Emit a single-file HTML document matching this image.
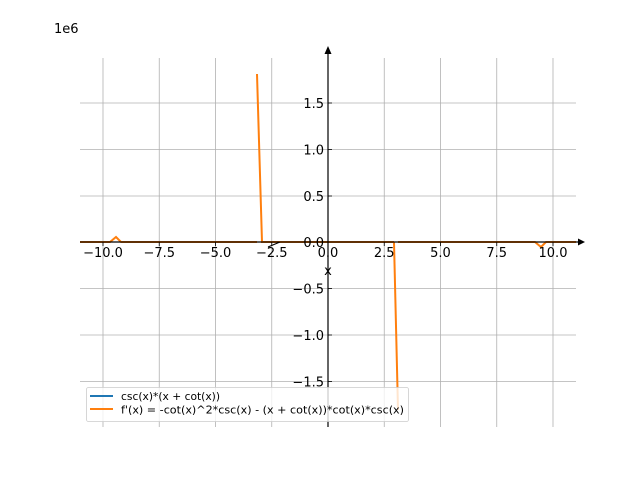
<!DOCTYPE html>
<html><head><style>body{margin:0;background:#fff}svg{display:block}text{font-family:"DejaVu Sans","Liberation Sans",sans-serif}</style></head>
<body>
<svg width="640" height="480" viewBox="0 0 640 480" xmlns="http://www.w3.org/2000/svg">
<rect width="640" height="480" fill="#fff"/>
<g stroke="#b0b0b0" stroke-width="0.8">
<line x1="103" y1="58" x2="103" y2="427"/><line x1="159.25" y1="58" x2="159.25" y2="427"/>
<line x1="215.5" y1="58" x2="215.5" y2="427"/><line x1="271.75" y1="58" x2="271.75" y2="427"/>
<line x1="384.25" y1="58" x2="384.25" y2="427"/><line x1="440.5" y1="58" x2="440.5" y2="427"/>
<line x1="496.75" y1="58" x2="496.75" y2="427"/><line x1="553" y1="58" x2="553" y2="427"/>
<line x1="80" y1="103" x2="576" y2="103"/><line x1="80" y1="149.5" x2="576" y2="149.5"/>
<line x1="80" y1="196" x2="576" y2="196"/><line x1="80" y1="288.5" x2="576" y2="288.5"/>
<line x1="80" y1="335" x2="576" y2="335"/><line x1="80" y1="381.5" x2="576" y2="381.5"/>
</g>
<g fill="none" stroke="#ff7f0e" stroke-width="2">
<polyline points="80,242 110,242 116,237 121,242 257,242"/>
<polyline points="257,74 262,242 394,242"/>
<polyline points="394,242 398,410"/>
<polyline points="398,242 535,242 541,247 546,242 576,242"/>
</g>
<line x1="268" y1="247" x2="280" y2="242" stroke="#000" stroke-width="1"/>
<g stroke="#000" stroke-width="1.2">
<line x1="80" y1="242" x2="580" y2="242"/>
<line x1="328" y1="427" x2="328" y2="52"/>
</g>
<polygon points="585,242 578,238.5 578,245.5" fill="#000"/>
<polygon points="328,46 324.5,54 331.5,54" fill="#000"/>
<g stroke="#000" stroke-width="0.8">
<line x1="103" y1="242" x2="103" y2="246"/><line x1="159.25" y1="242" x2="159.25" y2="246"/>
<line x1="215.5" y1="242" x2="215.5" y2="246"/><line x1="271.75" y1="242" x2="271.75" y2="246"/>
<line x1="384.25" y1="242" x2="384.25" y2="246"/><line x1="440.5" y1="242" x2="440.5" y2="246"/>
<line x1="496.75" y1="242" x2="496.75" y2="246"/><line x1="553" y1="242" x2="553" y2="246"/>
<line x1="328" y1="103" x2="332" y2="103"/><line x1="328" y1="149.5" x2="332" y2="149.5"/>
<line x1="328" y1="196" x2="332" y2="196"/><line x1="328" y1="288.5" x2="332" y2="288.5"/>
<line x1="328" y1="335" x2="332" y2="335"/><line x1="328" y1="381.5" x2="332" y2="381.5"/>
</g>
<g font-size="13" fill="#000" text-anchor="middle">
<text x="103" y="257">−10.0</text><text x="159.25" y="257">−7.5</text>
<text x="215.5" y="257">−5.0</text><text x="271.75" y="257">−2.5</text>
<text x="328" y="257">0.0</text><text x="384.25" y="257">2.5</text>
<text x="440.5" y="257">5.0</text><text x="496.75" y="257">7.5</text>
<text x="553" y="257">10.0</text>
<text x="328" y="275">x</text>
</g>
<g font-size="13" fill="#000" text-anchor="end">
<text x="324" y="108">1.5</text><text x="324" y="154.5">1.0</text>
<text x="324" y="201">0.5</text><text x="324" y="247">0.0</text>
<text x="324" y="293.5">−0.5</text><text x="324" y="340">−1.0</text>
<text x="324" y="386.5">−1.5</text>
</g>
<text x="54" y="33" font-size="13">1e6</text>
<rect x="86.5" y="387.5" width="322" height="34" rx="2" fill="#fff" fill-opacity="0.8" stroke="#ccc" stroke-width="0.8"/>
<line x1="90" y1="396" x2="113" y2="396" stroke="#1f77b4" stroke-width="2"/>
<line x1="90" y1="409" x2="113" y2="409" stroke="#ff7f0e" stroke-width="2"/>
<g font-size="10.7" fill="#000">
<text x="121" y="400">csc(x)*(x + cot(x))</text>
<text x="121" y="413.5" textLength="283" lengthAdjust="spacingAndGlyphs">f'(x) = -cot(x)^2*csc(x) - (x + cot(x))*cot(x)*csc(x)</text>
</g>
</svg>
</body></html>
